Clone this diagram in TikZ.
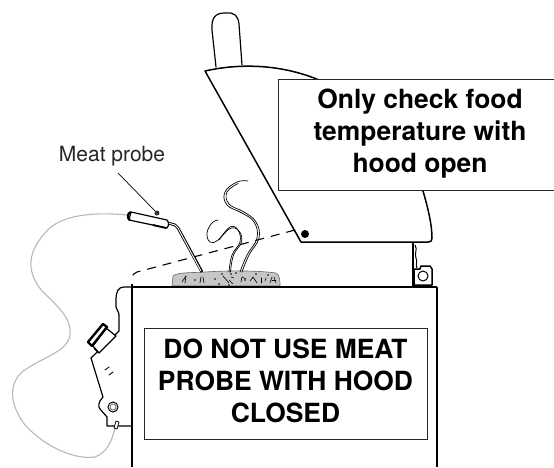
\documentclass[tikz,border=0pt]{standalone}
\usepackage{fontspec}
\setmainfont{TeX Gyre Heros}
\begin{document}
\begin{tikzpicture}[x=1pt,y=-1pt,
  ink/.style={draw=black,line width=1.2pt,line join=round,line cap=round},
  heavy/.style={draw=black,line width=2.4pt},
  thin/.style={draw=black,line width=0.6pt,line cap=round},
  steam/.style={draw=black,line width=0.7pt,line cap=round},
  cable/.style={draw=black!28,line width=1.1pt},
  warnbox/.style={draw=black!85,line width=0.9pt,fill=white,inner sep=0pt},
  warntext/.style={inner sep=0pt,align=center,font=\fontsize{26.4}{32}\selectfont\bfseries}]
\useasboundingbox (0,0) rectangle (554,467);
% cable
\draw[cable] (127,215) .. controls (95,212) and (60,214) .. (45,233)
  .. controls (25,255) and (28,275) .. (43,292)
  .. controls (60,308) and (72,320) .. (70,335)
  .. controls (68,352) and (40,358) .. (22,372)
  .. controls (8,385) and (10,405) .. (25,425)
  .. controls (45,447) and (75,460) .. (95,457)
  .. controls (108,452) and (112,440) .. (115,428);
% handle
\draw[ink,fill=white] (216,67) -- (212,30) .. controls (211,17) and (216,13) .. (225,13)
  .. controls (235,12) and (238,16) .. (239,24) -- (242,65);
% hood
\draw[ink,fill=white,line width=1.5pt] (205,71) .. controls (245,62) and (290,65) .. (330,85)
  -- (423,191) .. controls (428,208) and (432,225) .. (432,238)
  .. controls (432,241) and (431,242) .. (428,242) -- (301,242) -- cycle;
% hinge
\draw[heavy] (413,242) -- (413,287);
\draw[thin,line width=1pt] (415,245) .. controls (418,250) and (414,253) .. (416,258) .. controls (418,262) and (415,265) .. (417,268);
\draw[ink,fill=white,line width=1.5pt] (414,269) -- (420,269) -- (421,266) -- (430,266) -- (432,269) -- (432,285) -- (414,285) -- cycle;
\node[circle,draw=black,line width=1pt,minimum size=10pt,inner sep=0pt] (pivot) at (423,276) {};
% hood pivot and swing
\node[circle,fill=black,minimum size=8pt,inner sep=0pt] (dot) at (305,234) {};
\coordinate (swing) at (295,230);
\draw[line width=1.1pt,dash pattern=on 9pt off 7pt] (swing) -- (137,272) .. controls (134,273) and (132,275) .. (132,278);
% food
\draw[draw=black!60,fill=black!22,line width=0.6pt] (172,286) -- (173,276) .. controls (178,272) and (190,273) .. (205,272)
  .. controls (235,270) and (262,271) .. (276,273) .. controls (280,275) and (280,281) .. (280,286) -- cycle;
\foreach \a/\b/\c/\d in {182/282/186/276,186/276/185/283,200/283/201/277,203/277/204/283,223/276/229/283,
   229/280/233/284,231/277/234/278,241/282/242/277,242/277/246/279,250/281/253/277,253/277/257/283,
   261/278/261/283,266/278/265/281,272/277/270/283,274/277/276/283,276/280/272/280}
  \draw[thin] (\a,\b) -- (\c,\d);
\foreach \a/\b in {195/280,215/279,231/274,236/273,245/280,222/274,229/285,256/274,268/275,219/284}
  \fill (\a,\b) circle[radius=0.9pt];
% steam
\draw[steam] plot[smooth,tension=0.7] coordinates {(229,272) (232,255) (240,242) (238,230) (230,227) (218,240) (210,242) (207,233) (212,223) (218,220)};
\draw[steam] plot[smooth,tension=0.7] coordinates {(230.5,272) (233.5,255) (241.5,242) (239,231) (230,228.5) (219,240)};
\draw[steam] plot[smooth,tension=0.7] coordinates {(240,272) (247,255) (257,238) (254,222) (242,213) (227,205) (225,192) (237,182) (248,181)};
\draw[steam] plot[smooth,tension=0.7] coordinates {(242,272) (249,255) (259,238) (256,222) (244,212) (229,204) (227,192) (238,183.5)};
% probe
\draw[line width=2.8pt] (168,223) -- (175,225) -- (178,228) -- (202,272);
\draw[white,line width=0.9pt] (168,223) -- (175,225) -- (178,228) -- (201,271);
\draw[ink,fill=white] (131,212) -- (167,220) .. controls (169,222) and (169,226) .. (167,228) -- (129,220) -- cycle;
\draw[line width=2.2pt] (131,212) .. controls (127,213) and (127,219) .. (130,220);
\draw[line width=1.8pt] (153,225) -- (166,228);
\node[circle,fill=black!80,minimum size=5pt,inner sep=0pt] (bump) at (157,213) {};
\node[font=\fontsize{21}{24}\selectfont,text=black!85,inner sep=0pt] (label) at (112,156) {Meat probe};
\coordinate (lead) at (118,173);
\draw[line width=0.7pt] (lead) -- (bump);
% cabinet
\draw[line width=1.8pt] (132,287) -- (437,287);
\draw[line width=1.1pt] (437,287) -- (437,467);
\draw[line width=2.4pt] (132,284) -- (132,426);
\draw[line width=1.1pt] (132,426) -- (132,467);
% front panel
\draw[ink] (132,287) -- (124,287) .. controls (118,287) and (116,292) .. (116,300) -- (116,307)
  .. controls (116,310) and (119,311) .. (119,315) -- (119,331) -- (91,358) -- (103,397)
  .. controls (98,402) and (98,407) .. (100,409) -- (107,417) -- (107,426) -- (132,426);
\draw[ink,fill=white] (93,346) -- (106,328) -- (116,336) -- (99,353) -- cycle;
\draw[line width=2.4pt,fill=white,line join=round] (88,342) -- (103,324) -- (107,327) -- (92,346) -- cycle;
\draw[line width=1.6pt] (94,348) -- (98,352);
\draw[thin,line width=0.9pt] (105,370) -- (109,367);
\draw[thin,line width=0.9pt] (109,375) -- (113,372);
\node[circle,draw=black,line width=1pt,minimum size=10pt,inner sep=0pt] (ringa) at (113,407) {};
\node[circle,draw=black!60,line width=0.8pt,minimum size=6pt,inner sep=0pt] (ringb) at (113,407) {};
\draw[line width=0.7pt,fill=white] (114,428) -- (116,421) -- (119,422) -- (117,429) -- cycle;
% notices
\node[warnbox,minimum width=284pt,minimum height=111pt] (open) at (420,134.5) {};
\node[warntext] (opentext) at (420,133.5) {Only check food\\temperature with\\hood open};
\node[warnbox,minimum width=283pt,minimum height=111pt] (closed) at (285.5,383.5) {};
\node[warntext] (closedtext) at (285.5,381) {DO NOT USE MEAT\\PROBE WITH HOOD\\CLOSED};
\end{tikzpicture}
\end{document}
